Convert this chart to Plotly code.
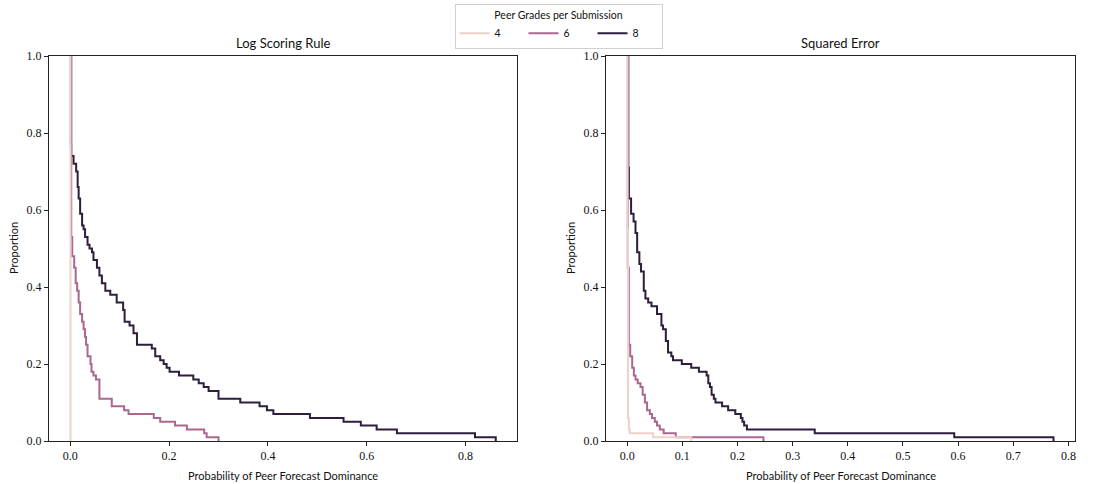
import plotly.graph_objects as go

# Complementary ECDF steps: x where the proportion drops, and the level after each drop
grades = [4, 6, 8]
colors = {4: "#edd1cb", 6: "#aa678f", 8: "#2d1e3e"}

# Log Scoring Rule panel
log4_x = [0.0005]
log4_y = [0.0]
log6_x = [0.001, 0.002, 0.004, 0.008, 0.011, 0.014, 0.017, 0.020, 0.024, 0.027,
          0.030, 0.032, 0.035, 0.041, 0.043, 0.047, 0.052, 0.059, 0.084, 0.109,
          0.118, 0.169, 0.182, 0.212, 0.236, 0.271, 0.276, 0.300]
log6_y = [0.77, 0.53, 0.48, 0.45, 0.41, 0.39, 0.36, 0.33, 0.31, 0.29,
          0.27, 0.25, 0.22, 0.20, 0.18, 0.17, 0.16, 0.11, 0.09, 0.08,
          0.07, 0.06, 0.05, 0.04, 0.03, 0.02, 0.01, 0.0]
log8_x = [0.002, 0.0067, 0.012, 0.015, 0.017, 0.020, 0.024, 0.027, 0.030, 0.035,
          0.039, 0.044, 0.047, 0.054, 0.059, 0.064, 0.071, 0.081, 0.094, 0.107,
          0.110, 0.120, 0.128, 0.135, 0.165, 0.172, 0.182, 0.189, 0.195, 0.201,
          0.220, 0.249, 0.260, 0.270, 0.280, 0.300, 0.344, 0.383, 0.398, 0.411,
          0.485, 0.553, 0.588, 0.620, 0.661, 0.819, 0.861]
log8_y = [0.74, 0.72, 0.70, 0.66, 0.63, 0.59, 0.56, 0.55, 0.53, 0.51,
          0.50, 0.49, 0.47, 0.45, 0.43, 0.41, 0.39, 0.38, 0.36, 0.34,
          0.31, 0.30, 0.28, 0.25, 0.24, 0.22, 0.21, 0.20, 0.19, 0.18,
          0.17, 0.16, 0.15, 0.14, 0.13, 0.11, 0.10, 0.09, 0.08, 0.07,
          0.06, 0.05, 0.04, 0.03, 0.02, 0.01, 0.0]

# Squared Error panel
sq4_x = [0.0005, 0.0015, 0.003, 0.0045, 0.047, 0.116]
sq4_y = [0.55, 0.06, 0.03, 0.02, 0.01, 0.0]
sq6_x = [0.001, 0.003, 0.0054, 0.009, 0.012, 0.015, 0.019, 0.024, 0.028, 0.032,
         0.036, 0.041, 0.045, 0.050, 0.054, 0.059, 0.066, 0.088, 0.247]
sq6_y = [0.45, 0.25, 0.22, 0.19, 0.17, 0.16, 0.15, 0.14, 0.12, 0.10,
         0.08, 0.07, 0.06, 0.05, 0.04, 0.03, 0.02, 0.01, 0.0]
sq8_x = [0.002, 0.003, 0.007, 0.0115, 0.015, 0.018, 0.022, 0.025, 0.030, 0.033,
         0.038, 0.044, 0.054, 0.062, 0.065, 0.070, 0.074, 0.080, 0.083, 0.099,
         0.116, 0.130, 0.144, 0.147, 0.150, 0.153, 0.157, 0.160, 0.172, 0.183,
         0.196, 0.206, 0.209, 0.212, 0.217, 0.340, 0.593, 0.773]
sq8_y = [0.71, 0.63, 0.59, 0.57, 0.54, 0.49, 0.46, 0.44, 0.39, 0.37,
         0.36, 0.35, 0.33, 0.30, 0.29, 0.26, 0.23, 0.22, 0.21, 0.20,
         0.19, 0.18, 0.17, 0.15, 0.14, 0.12, 0.11, 0.10, 0.09, 0.08,
         0.07, 0.06, 0.05, 0.04, 0.03, 0.02, 0.01, 0.0]

panels = [
    ("Log Scoring Rule", {4: (log4_x, log4_y), 6: (log6_x, log6_y), 8: (log8_x, log8_y)}),
    ("Squared Error", {4: (sq4_x, sq4_y), 6: (sq6_x, sq6_y), 8: (sq8_x, sq8_y)}),
]

W, H = 1117, 484
SANS = "Lato"
SERIF = "Liberation Serif"

fig = go.Figure()

# draw darkest first so the lighter groups sit on top
for p, (title, series) in enumerate(panels):
    xa = "x" if p == 0 else "x2"
    ya = "y" if p == 0 else "y2"
    for g in sorted(grades, reverse=True):
        xs, ys = series[g]
        fig.add_trace(go.Scatter(
            x=[xs[0]] + list(xs), y=[1.0] + list(ys),
            mode="lines", line=dict(color=colors[g], width=2, shape="hv"),
            name=str(g), legendgroup=str(g), showlegend=(p == 0),
            legendrank=g, xaxis=xa, yaxis=ya,
        ))

def px_x(v):
    return v / W

def px_y(v):
    return 1 - v / H

axis_common = dict(
    showgrid=False, zeroline=False, showline=True, mirror=True,
    linecolor="#222222", linewidth=1, ticks="outside", ticklen=4,
    tickcolor="#222222", tickwidth=1, automargin=False,
    tickfont=dict(family=SERIF, size=12, color="#111111"),
)

fig.update_layout(
    width=W, height=H,
    margin=dict(l=0, r=0, t=0, b=0, autoexpand=False),
    paper_bgcolor="white", plot_bgcolor="white",
    xaxis=dict(domain=[px_x(49), px_x(517)], range=[-0.043, 0.904],
               tickvals=[0, 0.2, 0.4, 0.6, 0.8], tickformat=".1f",
               anchor="y", **axis_common),
    yaxis=dict(domain=[px_y(441), px_y(56)], range=[0, 1],
               tickvals=[0, 0.2, 0.4, 0.6, 0.8, 1.0], tickformat=".1f",
               anchor="x", **axis_common),
    xaxis2=dict(domain=[px_x(606), px_x(1075)], range=[-0.0385, 0.812],
                tickvals=[0, 0.1, 0.2, 0.3, 0.4, 0.5, 0.6, 0.7, 0.8], tickformat=".1f",
                anchor="y2", **axis_common),
    yaxis2=dict(domain=[px_y(441), px_y(56)], range=[0, 1],
                tickvals=[0, 0.2, 0.4, 0.6, 0.8, 1.0], tickformat=".1f",
                anchor="x2", **axis_common),
    legend=dict(
        orientation="h", x=0.5, xanchor="center", y=px_y(4), yanchor="top",
        title=dict(text="Peer Grades per Submission", side="top center",
                   font=dict(family=SANS, size=10.5, color="#111111")),
        font=dict(family=SANS, size=10.5, color="#111111"),
        bgcolor="white", bordercolor="#d0d0d0", borderwidth=1,
        entrywidth=24, itemwidth=30, tracegroupgap=0,
    ),
    showlegend=True,
)

annotations = []
for p, (title, _) in enumerate(panels):
    left, right = (49, 517) if p == 0 else (606, 1075)
    cx = (left + right) / 2
    annotations.append(dict(text=title, x=px_x(cx), y=px_y(43), xref="paper", yref="paper",
                            xanchor="center", yanchor="middle", showarrow=False,
                            font=dict(family=SANS, size=13, color="#111111")))
    annotations.append(dict(text="Probability of Peer Forecast Dominance", x=px_x(cx), y=px_y(475),
                            xref="paper", yref="paper", xanchor="center", yanchor="middle",
                            showarrow=False, font=dict(family=SANS, size=11, color="#111111")))
    annotations.append(dict(text="Proportion", x=px_x(left - 35), y=px_y(248), xref="paper",
                            yref="paper", xanchor="center", yanchor="middle", textangle=-90,
                            showarrow=False, font=dict(family=SANS, size=11, color="#111111")))
fig.update_layout(annotations=annotations)

fig.write_html("out.html")
